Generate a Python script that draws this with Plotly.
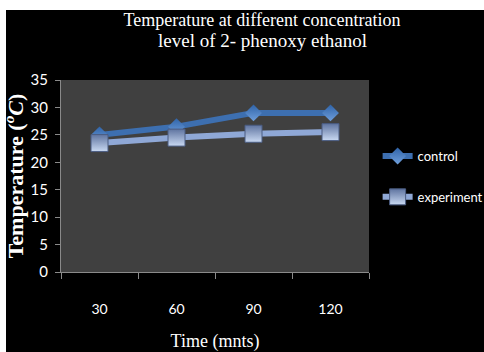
import plotly.graph_objects as go

# ---- data ----
time_labels = ["30", "60", "90", "120"]
control = [25.0, 26.5, 29.0, 29.0]
experiment = [23.5, 24.5, 25.2, 25.5]

title_line1 = "Temperature at different concentration"
title_line2 = "level of 2- phenoxy ethanol"
x_title = "Time (mnts)"
y_title = "Temperature (<i><sup>o</sup>C</i>)"

W, H = 484, 352
L, R, T, B = 61, 115, 80, 80
pw, ph = W - L - R, H - T - B

fig = go.Figure()
fig.add_trace(go.Scatter(
    x=time_labels, y=control, name="control", mode="lines+markers",
    line=dict(color="#3d6fb0", width=6),
    marker=dict(symbol="diamond", size=13, color="#2f63a8",
                gradient=dict(type="vertical", color="#6f9fdc"),
                line=dict(width=0)),
    legendgroup="a",
))
fig.add_trace(go.Scatter(
    x=time_labels, y=experiment, name="experiment", mode="lines+markers",
    line=dict(color="#8fa8d6", width=6),
    marker=dict(symbol="square", size=17, color="#5f74a0",
                gradient=dict(type="vertical", color="#c9d9f2"),
                line=dict(width=1, color="#4a5c82")),
    legendgroup="b",
))

def px_x(p):
    return (p - L) / pw

def px_y(p):
    return (H - B - p) / ph

fig.update_layout(
    width=W, height=H,
    margin=dict(l=L, r=R, t=T, b=B, autoexpand=False),
    paper_bgcolor="black",
    plot_bgcolor="#404040",
    font=dict(family="Lato", color="white", size=14),
    title=dict(text=title_line1, x=262 / W, xanchor="center",
               y=1 - 20 / H, yanchor="middle", yref="container",
               font=dict(family="Liberation Serif", size=18, color="white")),
    annotations=[
        dict(text=title_line2, xref="paper", yref="paper",
             x=px_x(262), y=px_y(40), xanchor="center", yanchor="middle",
             showarrow=False,
             font=dict(family="Liberation Serif", size=19, color="white")),
    ],
    showlegend=True,
    legend=dict(x=1.028, xanchor="left", y=px_y(141), yanchor="top",
                bgcolor="rgba(0,0,0,0)", font=dict(family="Lato", size=13, color="white"),
                itemwidth=30, tracegroupgap=21),
    shapes=[
        dict(type="rect", xref="paper", yref="paper",
             x0=px_x(0), x1=px_x(6), y0=px_y(H), y1=px_y(0),
             fillcolor="white", line=dict(width=0), layer="below"),
        dict(type="rect", xref="paper", yref="paper",
             x0=px_x(0), x1=px_x(W), y0=px_y(10), y1=px_y(0),
             fillcolor="white", line=dict(width=0), layer="below"),
    ],
)
fig.update_xaxes(
    type="category", range=[-0.5, 3.5], tickson="boundaries",
    ticks="outside", ticklen=6, tickcolor="#8a8a8a",
    showline=True, linecolor="#8a8a8a", showgrid=False,
    ticklabelstandoff=24, automargin=False,
    tickfont=dict(family="Lato", size=14, color="white"),
    title=dict(text=x_title, standoff=20,
               font=dict(family="Liberation Serif", size=18, color="white")),
)
fig.update_yaxes(
    range=[0, 35], dtick=5, ticks="outside", ticklen=5, tickcolor="#8a8a8a",
    showline=True, linecolor="#8a8a8a", showgrid=False, zeroline=False,
    ticklabelstandoff=4, automargin=False,
    tickfont=dict(family="Lato", size=15, color="white"),
    title=dict(text=y_title, standoff=6,
               font=dict(family="Liberation Serif", size=22, color="white", weight="bold")),
)

fig.write_html("out.html")
